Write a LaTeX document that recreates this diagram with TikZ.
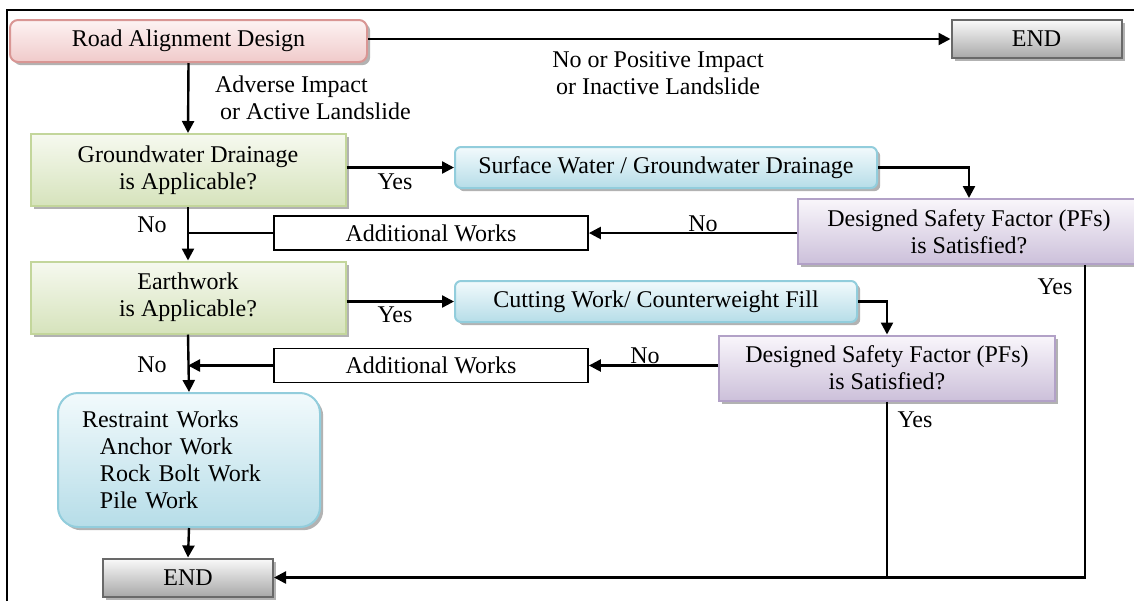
\documentclass[tikz,border=0pt]{standalone}
\usepackage{fontspec}
\setmainfont{Liberation Serif}
\usetikzlibrary{arrows.meta,shadows}
\definecolor{pinkTop}{RGB}{253,243,243}
\definecolor{pinkBot}{RGB}{240,202,202}
\definecolor{pinkLine}{RGB}{217,150,148}
\definecolor{endTop}{RGB}{250,250,250}
\definecolor{endBot}{RGB}{168,168,168}
\definecolor{endLine}{RGB}{105,105,105}
\definecolor{greenTop}{RGB}{246,249,239}
\definecolor{greenBot}{RGB}{214,227,188}
\definecolor{greenLine}{RGB}{195,214,155}
\definecolor{blueTop}{RGB}{242,250,252}
\definecolor{blueBot}{RGB}{182,221,232}
\definecolor{blueLine}{RGB}{146,205,220}
\definecolor{purpleTop}{RGB}{249,246,251}
\definecolor{purpleBot}{RGB}{204,192,218}
\definecolor{purpleLine}{RGB}{178,161,199}
\begin{document}
\begin{tikzpicture}[x=0.5pt, y=-0.5pt,
  font=\fontsize{12pt}{13.6pt}\selectfont,
  shadowed/.style={drop shadow={shadow xshift=1.6pt, shadow yshift=-1.6pt, fill=black, opacity=0.3}},
  pinkbox/.style={shadowed, draw=pinkLine, line width=1pt, rounded corners=4pt, top color=pinkTop, bottom color=pinkBot, inner sep=0pt, minimum width=178.5pt, minimum height=21pt},
  endbox/.style={shadowed, draw=endLine, line width=1pt, top color=endTop, bottom color=endBot, inner sep=0pt, minimum width=85pt, minimum height=19pt},
  askbox/.style={shadowed, draw=greenLine, line width=1pt, top color=greenTop, bottom color=greenBot, align=center, inner sep=0pt, minimum width=157.5pt, minimum height=36pt},
  workbox/.style={shadowed, draw=blueLine, line width=1pt, rounded corners=3pt, top color=blueTop, bottom color=blueBot, inner sep=0pt, minimum height=20.5pt},
  pfbox/.style={shadowed, draw=purpleLine, line width=1pt, top color=purpleTop, bottom color=purpleBot, align=center, inner sep=0pt, minimum height=32.5pt},
  addbox/.style={draw, line width=0.9pt, fill=white, inner sep=0pt, minimum width=157pt, minimum height=17pt},
  arr/.style={line width=1.2pt, -{Triangle[length=6pt,width=6pt]}},
  ln/.style={line width=1.2pt}]
\useasboundingbox (0,0) rectangle (1134,601);
\draw[line width=0.9pt] (7,601) -- (7,10) -- (1134,10);

\path (188.5,41) node[pinkbox] (rad) {Road Alignment Design};
\path (1036.5,39) node[endbox] (endA) {END};
\path (188,170) node[askbox] (gwd) {Groundwater Drainage\\is Applicable?};
\path (666,167.5) node[workbox, minimum width=211pt] (surf) {Surface Water / Groundwater Drainage};
\path (969,231.5) node[pfbox, minimum width=171pt] (pfA) {Designed Safety Factor (PFs)\\is Satisfied?};
\path (431,233) node[addbox] (addA) {Additional Works};
\path (188,297.5) node[askbox] (ew) {Earthwork\\is Applicable?};
\path (656,301.5) node[workbox, minimum width=201pt] (cut) {Cutting Work/ Counterweight Fill};
\path (887,368) node[pfbox, minimum width=168pt] (pfB) {Designed Safety Factor (PFs)\\is Satisfied?};
\path (431,365.5) node[addbox] (addB) {Additional Works};
\path (189,460) node[workbox, rounded corners=10pt, minimum width=131pt, minimum height=67pt, text width=107pt, align=left] (rw) {Restraint Works\\\hspace*{9pt}Anchor Work\\\hspace*{9pt}Rock Bolt Work\\\hspace*{9pt}Pile Work};
\path (188,577.5) node[endbox] (endB) {END};

\path (208,98) node[anchor=west, align=left] (lbAdverse) {Adverse Impact\\\hspace*{2.5pt}or Active Landslide};
\path (658,73) node[align=center] (lbNoImpact) {No or Positive Impact\\or Inactive Landslide};
\path (395,182) node (lbYesA) {Yes};
\path (395,315) node (lbYesB) {Yes};
\path (152,225) node (lbNoA) {No};
\path (152,365) node (lbNoB) {No};
\path (703,224) node (lbNoC) {No};
\path (645,356) node (lbNoD) {No};
\path (1055,287) node (lbYesC) {Yes};
\path (915,420) node (lbYesD) {Yes};

\draw[arr] (rad.east |- endA.west) -- (endA.west);
\draw[arr] (rad.south) -- (gwd.north);
\draw[arr] (gwd.east |- surf.west) -- (surf.west);
\draw[arr] (surf.east) -| (pfA.north);
\draw[arr] (pfA.west |- addA.east) -- (addA.east);
\draw[ln] (addA.west) -- (addA.west -| gwd.south);
\draw[arr] (gwd.south) -- (ew.north);
\draw[arr] (ew.east |- cut.west) -- (cut.west);
\draw[arr] (cut.east) -| (pfB.north);
\draw[arr] (pfB.west |- addB.east) -- (addB.east);
\draw[arr] (addB.west) -- (addB.west -| ew.south);
\draw[arr] (ew.south) -- (rw.north);
\draw[arr] (rw.south) -- (endB.north);
\coordinate (yesA) at (1085,264);
\draw[arr] (pfA.south -| yesA) |- (endB.east);
\draw[ln] (pfB.south) -- (pfB.south |- endB.east);
\end{tikzpicture}
\end{document}
